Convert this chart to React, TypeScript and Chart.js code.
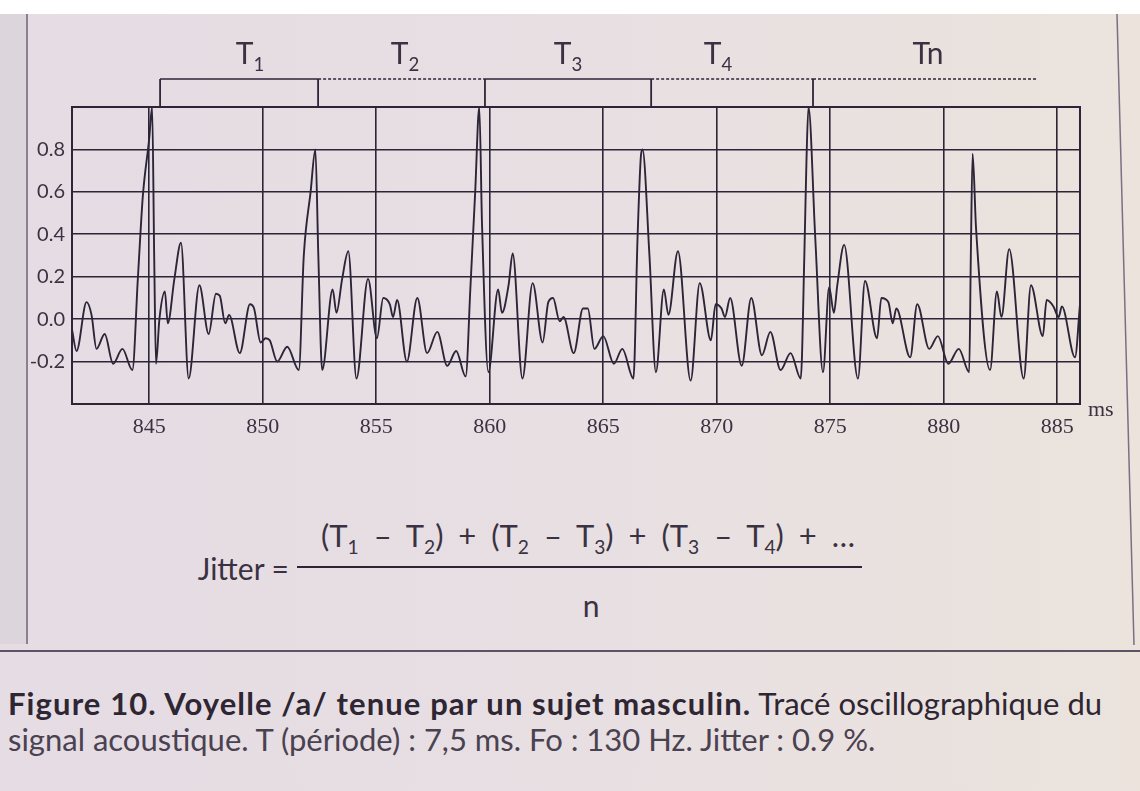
import React, { useEffect, useRef } from "react";
import { Chart, registerables } from "chart.js";

Chart.register(...registerables);

// ---- data (ms, amplitude) ----
const times = [
  841.6, 841.8, 842.24, 842.46, 842.68, 843.04, 843.41, 843.82, 844.26, 844.5, 844.72, 845.0, 845.13, 845.22, 845.3,
  845.45, 845.69, 845.82, 846.11, 846.4, 846.74, 847.21, 847.62, 847.94, 848.11, 848.35, 848.52, 848.99, 849.44,
  849.62, 849.91, 850.13, 850.31, 850.64, 851.08, 851.59, 851.81, 852.11, 852.32, 852.45, 852.62,
  853.08, 853.25, 853.5, 853.77, 854.13, 854.64, 855.03, 855.31, 855.6, 855.74, 855.92, 856.35, 856.81, 857.24,
  857.69, 858.13, 858.52, 858.94, 859.15, 859.36, 859.54, 859.66, 859.94,
  860.37, 860.54, 860.83, 861.01, 861.44, 861.89, 862.33, 862.58, 862.79, 863.08, 863.25, 863.7, 864.11, 864.32,
  864.61, 865.0, 865.47, 865.84, 866.33, 866.51, 866.66, 866.73, 867.03, 867.32,
  867.67, 867.87, 868.29, 868.85, 869.25, 869.74, 869.95, 870.21, 870.36, 870.59, 871.1, 871.52, 871.99, 872.36,
  872.81, 873.25, 873.7, 873.86, 873.95, 874.04, 874.34, 874.68,
  874.95, 875.16, 875.31, 875.61, 876.22, 876.53, 877.06, 877.25, 877.56, 877.75, 877.91, 878.52, 878.83, 879.36,
  879.74, 880.2, 880.66, 881.12, 881.19, 881.27, 881.42, 882.04,
  882.34, 882.54, 882.88, 883.52, 883.84, 884.36, 884.53, 884.83, 885.06, 885.2, 885.78, 886.0,
];
const amps = [
  -0.05, -0.15, 0.08, 0.02, -0.14, -0.07, -0.21, -0.14, -0.24, 0.19, 0.58, 0.85, 1.0, 0.3, -0.21,
  0.0, 0.13, -0.02, 0.19, 0.36, -0.28, 0.16, -0.07, 0.12, 0.11, -0.02, 0.02, -0.16, 0.07,
  0.05, -0.11, -0.09, -0.1, -0.2, -0.13, -0.24, 0.3, 0.6, 0.8, 0.3, -0.24,
  0.14, 0.03, 0.19, 0.32, -0.28, 0.19, -0.09, 0.1, 0.07, 0.01, 0.09, -0.2, 0.1, -0.16,
  -0.06, -0.22, -0.15, -0.27, 0.15, 0.6, 1.0, 0.45, -0.25,
  0.14, 0.03, 0.16, 0.31, -0.28, 0.17, -0.11, 0.08, 0.1, -0.01, 0.01, -0.16, 0.05, 0.05,
  -0.14, -0.08, -0.21, -0.14, -0.28, 0.38, 0.77, 0.8, 0.31, -0.25,
  0.14, 0.02, 0.32, -0.29, 0.17, -0.1, 0.07, 0.05, 0.01, 0.1, -0.22, 0.1, -0.17, -0.06,
  -0.24, -0.16, -0.28, 0.31, 0.74, 1.0, 0.38, -0.25,
  0.15, 0.03, 0.16, 0.35, -0.28, 0.18, -0.09, 0.1, 0.08, -0.02, 0.05, -0.18, 0.07, -0.14,
  -0.08, -0.21, -0.14, -0.25, 0.29, 0.78, 0.43, -0.24,
  0.13, 0.01, 0.33, -0.28, 0.16, -0.08, 0.09, 0.06, 0.01, 0.06, -0.18, 0.07,
];
const xTicks = [845, 850, 855, 860, 865, 870, 875, 880, 885];
const yTicks = [-0.2, 0, 0.2, 0.4, 0.6, 0.8];
const periodMarks = [845.48, 852.44, 859.79, 867.11, 874.24];
const periodEnd = 884.15;
const periodDashed = [false, true, false, true, true];

const INK = "#2c2538";
const TEXT = "#3a3242";

const bracketPlugin = {
  id: "bracket",
  afterDraw(chart: any) {
    const { ctx, chartArea, scales } = chart;
    const xs = scales.x;
    const yTop = 79;
    ctx.save();
    ctx.strokeStyle = INK;
    // frame
    ctx.lineWidth = 2;
    ctx.strokeRect(chartArea.left, chartArea.top, chartArea.right - chartArea.left, chartArea.bottom - chartArea.top);
    // horizontal bracket segments
    ctx.lineWidth = 1.5;
    const bounds = [...periodMarks, periodEnd];
    for (let i = 0; i < periodMarks.length; i++) {
      ctx.setLineDash(periodDashed[i] ? [3, 2] : []);
      ctx.beginPath();
      ctx.moveTo(xs.getPixelForValue(bounds[i]), yTop);
      ctx.lineTo(xs.getPixelForValue(bounds[i + 1]), yTop);
      ctx.stroke();
    }
    ctx.setLineDash([]);
    ctx.lineWidth = 1.8;
    for (const m of periodMarks) {
      const px = xs.getPixelForValue(m);
      ctx.beginPath();
      ctx.moveTo(px, yTop);
      ctx.lineTo(px, chartArea.top);
      ctx.stroke();
    }
    ctx.restore();
  },
};

function Sub({ children }: { children: any }) {
  return (
    <span style={{ fontSize: "0.62em", position: "relative", top: "0.38em", wordSpacing: 0 }}>{children}</span>
  );
}

export default function App() {
  const ref = useRef<HTMLCanvasElement | null>(null);
  useEffect(() => {
    if (!ref.current) return;
    const chart = new Chart(ref.current, {
      type: "line",
      data: {
        datasets: [
          {
            data: times.map((t, i) => ({ x: t, y: amps[i] })),
            borderColor: INK,
            borderWidth: 1.9,
            pointRadius: 0,
            cubicInterpolationMode: "monotone",
            fill: false,
          },
        ],
      },
      options: {
        animation: false,
        responsive: false,
        maintainAspectRatio: false,
        layout: { padding: { left: 12, top: 107, right: 60, bottom: 26 } },
        plugins: { legend: { display: false }, tooltip: { enabled: false } },
        scales: {
          x: {
            type: "linear",
            min: 841.6,
            max: 886.0,
            afterBuildTicks: (a: any) => {
              a.ticks = xTicks.map((v) => ({ value: v }));
            },
            afterFit: (s: any) => {
              s.height = 40;
            },
            grid: { color: INK, lineWidth: 1.6, drawTicks: false },
            border: { display: true, color: INK, width: 2 },
            ticks: {
              padding: 10,
              color: TEXT,
              autoSkip: false,
              maxRotation: 0,
              font: { family: "'Liberation Serif', serif", size: 22 },
              callback: (v: any) => String(v),
            },
          },
          y: {
            min: -0.4,
            max: 1.0,
            afterBuildTicks: (a: any) => {
              a.ticks = yTicks.map((v) => ({ value: v }));
            },
            afterFit: (s: any) => {
              s.width = 60;
            },
            grid: { color: INK, lineWidth: 1.6, drawTicks: false },
            border: { display: true, color: INK, width: 2 },
            ticks: {
              padding: 7,
              color: TEXT,
              font: { family: "Lato, sans-serif", size: 20 },
              callback: (v: any) => Number(v).toFixed(1),
            },
          },
        },
      },
      plugins: [bracketPlugin],
    } as any);
    return () => chart.destroy();
  }, []);

  const sans = "Lato, 'Open Sans', sans-serif";
  const tLabel = (x: number, main: string, sub?: string) => (
    <div
      style={{
        position: "absolute",
        left: x,
        top: 52,
        transform: "translate(-50%, -50%)",
        fontFamily: sans,
        fontSize: 30,
        color: TEXT,
        whiteSpace: "nowrap",
        lineHeight: 1,
      }}
    >
      {main}
      {sub ? <Sub>{sub}</Sub> : null}
    </div>
  );

  return (
    <div
      style={{
        position: "absolute",
        left: 0,
        top: 0,
        width: 1140,
        height: 791,
        overflow: "hidden",
        background: "linear-gradient(90deg, #e5dce4 0%, #e8dfe3 50%, #ebe3dc 100%)",
      }}
    >
      <div style={{ position: "absolute", left: 0, top: 0, width: 1140, height: 14, background: "#ffffff" }} />
      <div style={{ position: "absolute", left: 0, top: 14, width: 26, height: 630, background: "#ddd5dc" }} />
      <div style={{ position: "absolute", left: 26, top: 14, width: 2, height: 630, background: "#8a8090" }} />
      <svg width={1140} height={791} style={{ position: "absolute", left: 0, top: 0 }}>
        <line x1={1117} y1={14} x2={1134} y2={645} stroke="#7a7084" strokeWidth={1.5} />
        <line x1={0} y1={651} x2={1140} y2={651} stroke="#5d5366" strokeWidth={2} />
      </svg>
      <canvas ref={ref} width={1140} height={470} style={{ position: "absolute", left: 0, top: 0, width: 1140, height: 470 }} />
      {tLabel(250, "T", "1")}
      {tLabel(405, "T", "2")}
      {tLabel(568, "T", "3")}
      {tLabel(718, "T", "4")}
      {tLabel(928, "Tn")}
      <div style={{ position: "absolute", left: 1088, top: 396, fontFamily: "'Liberation Serif', serif", fontSize: 22, color: TEXT }}>
        ms
      </div>
      {/* formula */}
      <div
        style={{
          position: "absolute",
          left: 289,
          top: 568,
          transform: "translate(-100%, -50%)",
          fontFamily: sans,
          fontSize: 30,
          color: TEXT,
          lineHeight: 1,
          whiteSpace: "nowrap",
        }}
      >
        Jitter =
      </div>
      <div
        style={{
          position: "absolute",
          left: 588,
          top: 535,
          transform: "translate(-50%, -50%)",
          fontFamily: sans,
          fontSize: 31,
          color: TEXT,
          whiteSpace: "nowrap",
          lineHeight: 1,
          wordSpacing: 7,
        }}
      >
        (T<Sub>1</Sub> – T<Sub>2</Sub>) + (T<Sub>2</Sub> – T<Sub>3</Sub>) + (T<Sub>3</Sub> – T<Sub>4</Sub>) + …
      </div>
      <div style={{ position: "absolute", left: 297, top: 566, width: 565, height: 2, background: INK }} />
      <div
        style={{
          position: "absolute",
          left: 591,
          top: 605,
          transform: "translate(-50%, -50%)",
          fontFamily: sans,
          fontSize: 30,
          color: TEXT,
          lineHeight: 1,
        }}
      >
        n
      </div>
      {/* caption */}
      <div
        style={{
          position: "absolute",
          left: 8,
          top: 685,
          fontFamily: sans,
          fontSize: 31,
          color: "#2e2632",
          whiteSpace: "nowrap",
          lineHeight: "36px",
        }}
      >
        <div>
          <span style={{ fontWeight: 700, letterSpacing: 1.1 }}>Figure 10. Voyelle /a/ tenue par un sujet masculin.</span>{" "}
          Tracé oscillographique du
        </div>
        <div style={{ color: "#4a4250" }}>signal acoustique. T (période) : 7,5 ms. Fo : 130 Hz. Jitter : 0.9 %.</div>
      </div>
    </div>
  );
}
